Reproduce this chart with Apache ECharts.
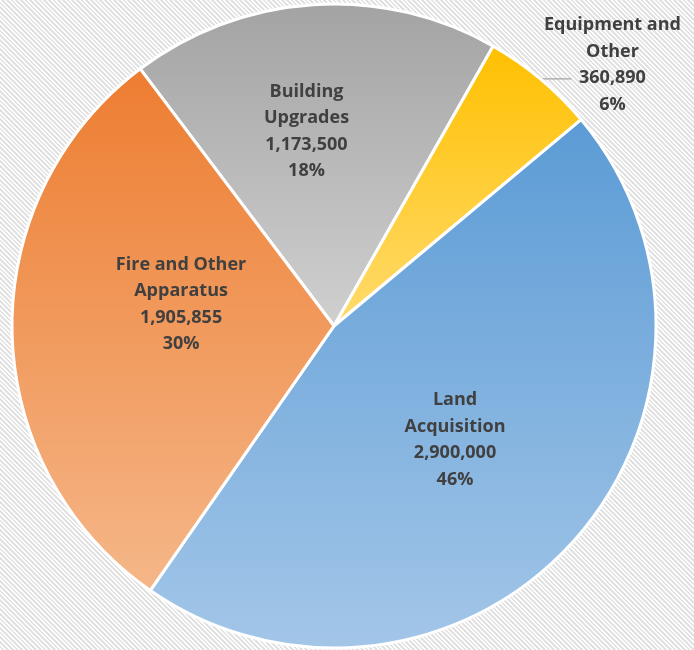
<!DOCTYPE html>
<html>
<head>
<meta charset="utf-8">
<script src="https://cdn.jsdelivr.net/npm/echarts@6/dist/echarts.min.js"></script>
<style>
html,body{margin:0;padding:0;background:#fff;}
#chart{width:694px;height:650px;
  background: repeating-linear-gradient(45deg, #ffffff 0px, #ffffff 1.6px, #e2e2e2 1.6px, #e2e2e2 3.3px);}
</style>
</head>
<body>
<div id="chart"></div>
<script>
// ---- data ----
const categories = ['Building\nUpgrades', 'Equipment and\nOther', 'Land\nAcquisition', 'Fire and Other\nApparatus'];
const values = [1173500, 360890, 2900000, 1905855];
const topColors = ['#a3a3a3', '#ffc000', '#5b9bd5', '#ed7d31'];
const bottomColors = ['#d0d0d0', '#ffdb6e', '#a3c6e8', '#f5b789'];

const labelOffsets = [[-17, -31], null, [0, 3], [11, -25]];

const chart = echarts.init(document.getElementById('chart'), null, {renderer: 'canvas'});
chart.setOption({
  backgroundColor: 'transparent',
  animation: false,
  series: [{
    type: 'pie',
    center: ['48.13%', '50.15%'],
    radius: 322,
    startAngle: 127,
    clockwise: true,
    avoidLabelOverlap: false,
    percentPrecision: 0,
    itemStyle: {borderColor: '#ffffff', borderWidth: 3},
    label: {
      position: 'inside',
      color: '#404040',
      fontFamily: 'Open Sans',
      fontWeight: 'bold',
      fontSize: 18,
      lineHeight: 26.5,
      align: 'center',
      formatter: function (p) {
        return p.name + '\n' + p.value.toLocaleString('en-US') + '\n' + p.percent + '%';
      }
    },
    labelLine: {show: false},
    labelLayout: function (params) {
      const i = params.dataIndex;
      if (i === 1) {
        const pts = params.labelLinePoints;
        if (!pts) return {};
        const end = pts[pts.length - 1];
        return {
          x: end[0] + 41,
          y: end[1] - 14,
          align: 'center',
          verticalAlign: 'middle',
          labelLinePoints: pts
        };
      }
      const o = labelOffsets[i];
      return o ? {dx: o[0], dy: o[1]} : {};
    },
    data: categories.map(function (name, i) {
      const item = {
        name: name,
        value: values[i],
        itemStyle: {
          color: {
            type: 'linear', x: 0, y: 0, x2: 0, y2: 1,
            colorStops: [{offset: 0, color: topColors[i]}, {offset: 1, color: bottomColors[i]}]
          }
        }
      };
      if (i === 1) {
        item.label = {position: 'outside', alignTo: 'none'};
        item.labelLine = {show: true, length: 0, length2: 31, lineStyle: {color: '#a6a6a6', width: 1.3}};
      }
      return item;
    })
  }]
});
</script>
</body>
</html>
